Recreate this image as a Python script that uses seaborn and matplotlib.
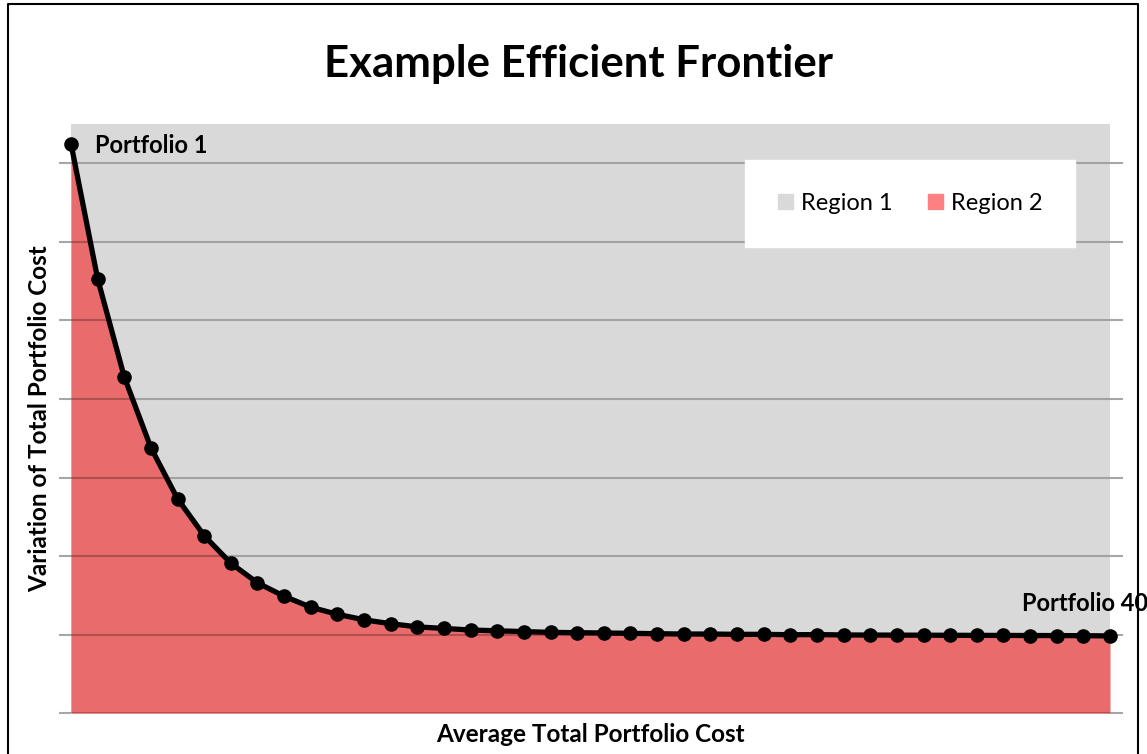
import numpy as np
import pandas as pd
import matplotlib
matplotlib.use("Agg")
import matplotlib.pyplot as plt
import matplotlib.patches as mpatches
import seaborn as sns

# efficient frontier points (portfolio number, variation of cost)
portfolio = list(range(1, 41))
variation = [7.25, 5.53, 4.28, 3.38, 2.73, 2.26, 1.91, 1.66, 1.49, 1.35,
             1.26, 1.19, 1.14, 1.10, 1.08, 1.06, 1.05, 1.04, 1.03, 1.026,
             1.022, 1.018, 1.013, 1.009, 1.009, 1.005, 1.005, 1.000, 1.002, 0.997,
             0.996, 0.995, 0.994, 0.993, 0.992, 0.991, 0.990, 0.989, 0.988, 0.985]
region_labels = ["Region 1", "Region 2"]
region_colors = ["#d9d9d9", "#ff8080"]

df = pd.DataFrame({"portfolio": portfolio, "variation": variation})

sns.set_style("white")
plt.rcParams["font.family"] = ["Lato", "DejaVu Sans"]
plt.rcParams["text.color"] = "black"
plt.rcParams["axes.labelcolor"] = "black"

fig = plt.figure(figsize=(11.47, 7.54), dpi=100)
ax = fig.add_axes([71 / 1147, 1 - 713.3 / 754, (1110 - 71) / 1147, (713.3 - 124) / 754])
ax.set_facecolor(region_colors[0])

ax.fill_between(df["portfolio"], 0, df["variation"], color="#ea6b6b", lw=0, zorder=1)
for y in range(0, 8):
    ax.axhline(y, color="black", alpha=0.25, lw=1.5, zorder=2)

sns.lineplot(data=df, x="portfolio", y="variation", ax=ax, color="black",
             lw=3.8, marker="o", markersize=10.5, markeredgewidth=0, zorder=3,
             clip_on=False)

ax.set_xlim(1, 40)
ax.set_ylim(0, 7.5)
ax.set_yticks(range(0, 8))
ax.set_yticklabels([])
ax.set_xticks([])
ax.tick_params(axis="y", direction="out", length=9, width=1.5, color="#a6a6a6",
               left=True, right=True)
for s in ax.spines.values():
    s.set_visible(False)

ax.set_xlabel("Average Total Portfolio Cost", fontsize=17.5, fontweight="bold")
ax.set_ylabel("Variation of Total Portfolio Cost", fontsize=17.5, fontweight="bold")
ax.xaxis.label.set_va("center")
ax.yaxis.label.set_va("center")
ax.xaxis.set_label_coords(0.5, (713.3 - 735) / 589.3)
ax.yaxis.set_label_coords((40 - 71) / 1039, 0.5)

fig.text(578 / 1147, 1 - 64 / 754, "Example Efficient Frontier", ha="center", va="center",
         fontsize=31.5, fontweight="bold")

ax.annotate("Portfolio 1", (portfolio[0], variation[0]), xytext=(17, -1),
            textcoords="offset points", fontsize=17, fontweight="bold", va="center")
ax.annotate("Portfolio 40", (portfolio[-1], variation[-1]), xytext=(-63, 23),
            textcoords="offset points", fontsize=17, fontweight="bold", va="center",
            annotation_clip=False)

handles = [mpatches.Patch(color=c, label=l) for c, l in zip(region_colors, region_labels)]
leg = ax.legend(handles=handles, ncol=2, loc="upper left",
                bbox_to_anchor=((745 - 71) / 1039, 1 - (160 - 124) / 589.3),
                frameon=True, fancybox=False, framealpha=1, edgecolor="white",
                fontsize=17, handlelength=0.62, handleheight=0.62, handletextpad=0.35,
                columnspacing=1.5, borderpad=1.4, borderaxespad=0)

# outer border of the chart
fig.add_artist(plt.Line2D([8 / 1147, 8 / 1147, 1138 / 1147, 1138 / 1147],
                          [0, 1 - 4 / 754, 1 - 4 / 754, 0], color="black", lw=1.5))

fig.savefig("out.png", dpi=100)
